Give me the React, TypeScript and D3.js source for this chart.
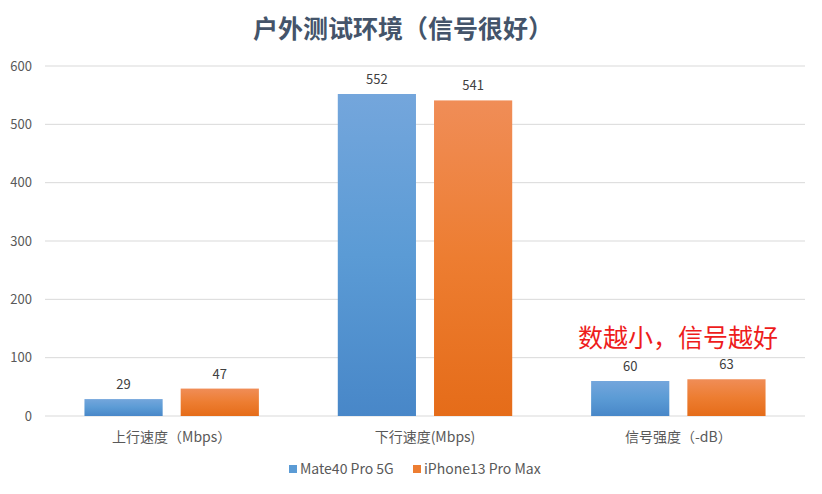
import React from "react";
import * as d3 from "d3";

const categories = ["上行速度（Mbps）", "下行速度(Mbps)", "信号强度（-dB）"];
const seriesNames = ["Mate40 Pro 5G", "iPhone13 Pro Max"];
const mateValues = [29, 552, 60];
const iphoneValues = [47, 541, 63];
const yTicks = [0, 100, 200, 300, 400, 500, 600];
const title = "户外测试环境（信号很好）";
const note = "数越小，信号越好";

const W = 822;
const H = 494;
const M = { left: 45, right: 17, top: 66, bottom: 78 };
const FONT = "'Noto Sans CJK SC', 'Microsoft YaHei', sans-serif";

const gradients = [
  { id: "gBlue", top: "#74a6dc", mid: "#5b9bd5", bottom: "#4887c8", solid: "#5b9bd5" },
  { id: "gOrange", top: "#f08d57", mid: "#ed7d31", bottom: "#e56c19", solid: "#ed7d31" },
];

export default function App() {
  const x0 = d3
    .scaleBand<string>()
    .domain(categories)
    .range([M.left, W - M.right]);
  const x1 = d3
    .scaleBand<string>()
    .domain(seriesNames)
    .range([0, x0.bandwidth()])
    .paddingInner(0.1875)
    .paddingOuter(0.41);
  const y = d3
    .scaleLinear()
    .domain([0, 600])
    .range([H - M.bottom, M.top]);

  const series = [mateValues, iphoneValues];

  return (
    <svg
      width={W}
      height={H}
      style={{ position: "absolute", left: 0, top: 0, background: "#fff" }}
      fontFamily={FONT}
    >
      <defs>
        {gradients.map((g) => (
          <linearGradient key={g.id} id={g.id} x1="0" y1="0" x2="0" y2="1">
            <stop offset="0%" stopColor={g.top} />
            <stop offset="50%" stopColor={g.mid} />
            <stop offset="100%" stopColor={g.bottom} />
          </linearGradient>
        ))}
      </defs>
      <rect width={W} height={H} fill="#fff" />
      <text
        x={W / 2 - 8}
        y={38}
        textAnchor="middle"
        fontSize={25}
        fontWeight="bold"
        fill="#44546a"
      >
        {title}
      </text>
      {yTicks.map((t) => (
        <g key={t}>
          <line
            x1={M.left}
            x2={W - M.right}
            y1={y(t)}
            y2={y(t)}
            stroke="#d9d9d9"
            strokeWidth={1}
          />
          <text
            x={32}
            y={y(t) + 4.5}
            textAnchor="end"
            fontSize={13}
            fill="#595959"
          >
            {t}
          </text>
        </g>
      ))}
      {categories.map((c, ci) => (
        <g key={c}>
          {series.map((vals, si) => {
            const bx = (x0(c) ?? 0) + (x1(seriesNames[si]) ?? 0);
            const by = y(vals[ci]);
            return (
              <g key={si}>
                <rect
                  x={bx}
                  y={by}
                  width={x1.bandwidth()}
                  height={y(0) - by}
                  fill={`url(#${gradients[si].id})`}
                />
                <text
                  x={bx + x1.bandwidth() / 2}
                  y={by - 10}
                  textAnchor="middle"
                  fontSize={13}
                  fill="#404040"
                >
                  {vals[ci]}
                </text>
              </g>
            );
          })}
          <text
            x={(x0(c) ?? 0) + x0.bandwidth() / 2}
            y={442}
            textAnchor="middle"
            fontSize={14}
            fill="#595959"
          >
            {c}
          </text>
        </g>
      ))}
      <text x={578} y={347} fontSize={25} fill="#ee1c1c">
        {note}
      </text>
      {seriesNames.map((s, i) => {
        const lx = i === 0 ? 289 : 413;
        return (
          <g key={s}>
            <rect x={lx} y={465} width={8} height={8} fill={gradients[i].solid} />
            <text x={lx + 11} y={474} fontSize={14} fill="#595959">
              {s}
            </text>
          </g>
        );
      })}
    </svg>
  );
}
